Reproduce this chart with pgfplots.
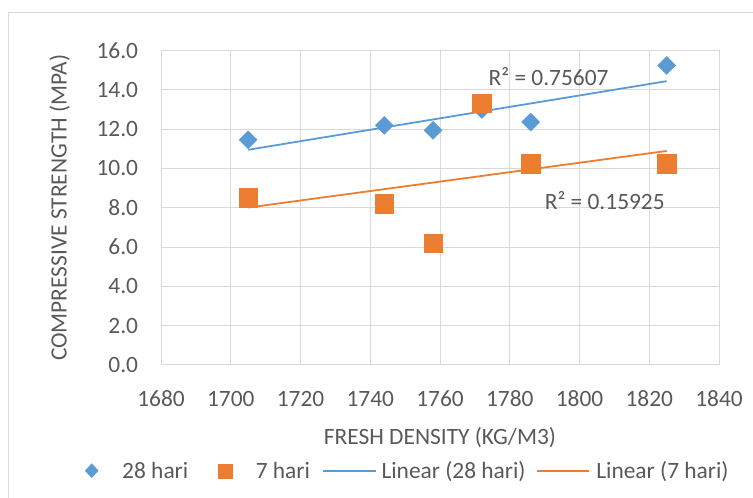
\documentclass[border=0pt]{standalone}
\usepackage{fontspec}
\setmainfont{Carlito}
\usepackage{pgfplots}
\pgfplotsset{compat=1.18}

\definecolor{txt}{HTML}{595959}
\definecolor{gridc}{HTML}{D9D9D9}
\definecolor{c28}{HTML}{5B9BD5}
\definecolor{c7}{HTML}{ED7D31}

\pgfplotsset{
  legdiamond/.style={legend image code/.code={%
    \draw[##1, mark size=7bp, mark options={xscale=1.24}] plot coordinates {(0bp,0bp)};}},
  legsquare/.style={legend image code/.code={%
    \draw[##1, mark size=7bp] plot coordinates {(0bp,0bp)};}},
  legline/.style={legend image code/.code={%
    \draw[##1] (0bp,0bp) -- (#1,0bp);}},
}

\begin{document}
\begin{tikzpicture}[font=\fontsize{23.4bp}{28bp}\selectfont]
\useasboundingbox (0,0) rectangle (753bp,498bp);
% chart frame (only top and left edges are in view)
\draw[gridc, line width=1bp] (8bp,0bp) -- (8bp,485bp) -- (753bp,485bp);

\begin{axis}[
    scale only axis,
    width=558bp, height=314.5bp,
    at={(161bp,133bp)}, anchor=south west,
    xmin=1680, xmax=1840, ymin=0, ymax=16,
    xtick={1680,1700,...,1840},
    ytick={0,2,...,16},
    grid=major,
    major grid style={gridc, line width=1bp},
    axis line style={gridc, line width=1bp},
    major tick length=0pt,
    tick label style={text=txt, inner sep=0pt, /pgf/number format/assume math mode=true},
    xticklabel style={anchor=north, yshift=-25.7bp, /pgf/number format/1000 sep={}},
    yticklabel style={anchor=east, xshift=-22.7bp,
        /pgf/number format/fixed, /pgf/number format/fixed zerofill,
        /pgf/number format/precision=1},
    clip=false,
    legend columns=4,
    legend cell align=left,
    legend style={at={(-0.1362,-0.3361)}, anchor=west, draw=none, fill=none,
        inner sep=0pt, column sep=0pt, row sep=0pt,
        nodes={inner sep=0pt, text=txt}},
]

\addplot[only marks, mark=diamond*, mark size=9bp, color=c28,
    mark options={xscale=1.333}, legdiamond]
    coordinates {
    (1705,11.46) (1744,12.19) (1758,11.94) (1772,13.0) (1786,12.36) (1825,15.24)
};
\addlegendentry{\hspace*{24bp}28 hari\hspace*{30bp}}

\addplot[only marks, mark=square*, mark size=9.25bp, color=c7, legsquare]
    coordinates {
    (1705,8.5) (1744,8.21) (1758,6.2) (1772,13.32) (1786,10.23) (1825,10.23)
};
\addlegendentry{\hspace*{23.5bp}7 hari\hspace*{12.5bp}}

\addplot[c28, line width=1.8bp, mark=none, legline=52.3bp]
    coordinates {(1705,10.95) (1825,14.44)};
\addlegendentry{\hspace*{5bp}Linear (28 hari)\hspace*{11bp}}

\addplot[c7, line width=1.8bp, mark=none, legline=52bp]
    coordinates {(1705,8.01) (1825,10.89)};
\addlegendentry{\hspace*{6bp}Linear (7 hari)}

\node[anchor=west, text=txt, inner sep=0pt] at (axis cs:1773.9,14.65) {R² = 0.75607};
\node[anchor=west, text=txt, inner sep=0pt] at (axis cs:1790,8.38) {R² = 0.15925};
\end{axis}

\node[rotate=90, anchor=base, text=txt, inner sep=0pt] at (66.5bp,290.3bp) {COMPRESSIVE STRENGTH (MPA)};
\node[anchor=base, text=txt, inner sep=0pt] at (440bp,53bp) {FRESH DENSITY (KG/M3)};
\end{tikzpicture}
\end{document}
